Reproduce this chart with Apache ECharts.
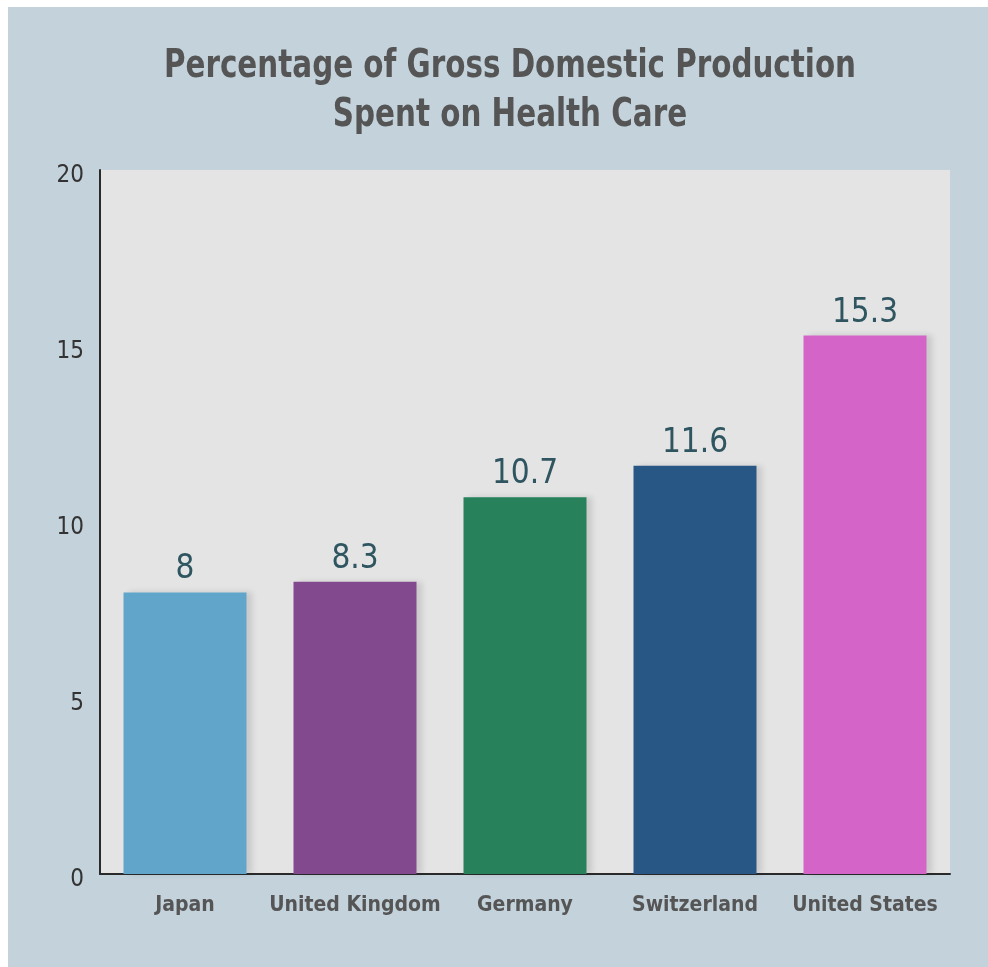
<!DOCTYPE html>
<html>
<head>
<meta charset="utf-8">
<script src="https://cdn.jsdelivr.net/npm/echarts@6/dist/echarts.min.js"></script>
<style>
html,body{margin:0;padding:0;background:#ffffff;}
#bg{position:absolute;left:8px;top:7px;width:980px;height:960px;background:#c3d2db;}
#chart{position:absolute;left:0;top:0;width:988px;height:967px;}
</style>
</head>
<body>
<div id="bg"></div>
<div id="chart"></div>
<script>
const titleLines = ['Percentage of Gross Domestic Production', 'Spent on Health Care'];
const categories = ['Japan', 'United Kingdom', 'Germany', 'Switzerland', 'United States'];
const values = [8, 8.3, 10.7, 11.6, 15.3];
const barColors = ['#62a5cb', '#83498e', '#27825b', '#285685', '#d564c9'];
const yTicks = [0, 5, 10, 15, 20];

const condensed = '"Liberation Sans Narrow", "DejaVu Sans Condensed", "Roboto Condensed", sans-serif';

const chart = echarts.init(document.getElementById('chart'), null, {renderer: 'canvas'});
chart.setOption({
  backgroundColor: 'transparent',
  animation: false,
  graphic: [{
    type: 'text',
    x: 510,
    y: 42,
    scaleX: 0.86,
    scaleY: 1.05,
    style: {
      text: titleLines.join('\n'),
      textAlign: 'center',
      textVerticalAlign: 'top',
      fontFamily: condensed,
      fontWeight: 'bold',
      fontSize: 38,
      lineHeight: 47,
      fill: '#555555'
    }
  }],
  grid: {
    left: 100, right: 38, top: 170, bottom: 93,
    show: true, backgroundColor: '#e4e4e4', borderWidth: 0
  },
  xAxis: {
    type: 'category',
    data: categories,
    axisLine: {show: true, lineStyle: {color: '#2a2a2a', width: 2}},
    axisTick: {show: false},
    axisLabel: {
      interval: 0,
      margin: 21,
      fontFamily: condensed,
      fontWeight: 'bold',
      fontSize: 21,
      color: '#555555'
    }
  },
  yAxis: {
    type: 'value',
    min: yTicks[0],
    max: yTicks[yTicks.length - 1],
    interval: yTicks[1] - yTicks[0],
    axisLine: {show: true, lineStyle: {color: '#2a2a2a', width: 2}},
    axisTick: {show: false},
    splitLine: {show: false},
    axisLabel: {
      margin: 16,
      verticalAlign: 'top',
      lineHeight: 12,
      fontFamily: condensed,
      fontSize: 24,
      color: '#333333'
    }
  },
  series: [{
    type: 'bar',
    barWidth: 123,
    data: values.map((v, i) => ({
      value: v,
      itemStyle: {
        color: barColors[i],
        shadowColor: 'rgba(0,0,0,0.12)',
        shadowBlur: 6,
        shadowOffsetX: 5,
        shadowOffsetY: 0
      }
    })),
    label: {
      show: true,
      position: 'top',
      distance: 6,
      fontFamily: condensed,
      fontSize: 33,
      color: '#2e5560'
    }
  }]
});
</script>
</body>
</html>
